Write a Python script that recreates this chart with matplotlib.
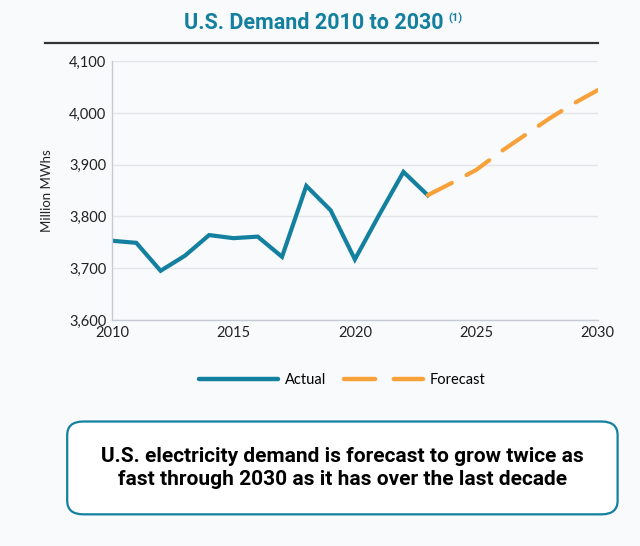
import matplotlib.pyplot as plt
from matplotlib.patches import FancyBboxPatch
from matplotlib.lines import Line2D

years_actual = [2010, 2011, 2012, 2013, 2014, 2015, 2016, 2017, 2018, 2019, 2020, 2021, 2022, 2023]
demand_actual = [3753, 3749, 3695, 3724, 3764, 3758, 3761, 3722, 3859, 3812, 3717, 3803, 3886, 3841]
years_forecast = [2023, 2024, 2025, 2026, 2027, 2028, 2029, 2030]
demand_forecast = [3841, 3865, 3890, 3925, 3957, 3989, 4018, 4044]
yticks = [3600, 3700, 3800, 3900, 4000, 4100]
xticks = [2010, 2015, 2020, 2025, 2030]

teal = "#13809f"
orange = "#f8a13a"
bg = "#f9fafb"

plt.rcParams["font.family"] = ["Lato", "DejaVu Sans"]

fig = plt.figure(figsize=(6.4, 5.46), dpi=100, facecolor=bg)
ax = fig.add_axes([0.175, 0.414, 0.759, 0.474])
ax.set_facecolor(bg)

ax.plot(years_actual, demand_actual, color=teal, lw=3, solid_joinstyle="miter", label="Actual")
ax.plot(years_forecast, demand_forecast, color=orange, lw=3, dashes=(6.5, 4),
        dash_capstyle="round", label="Forecast")

ax.set_xlim(2010, 2030)
ax.set_ylim(3600, 4100)
ax.set_xticks(xticks)
ax.set_yticks(yticks)
ax.set_yticklabels([f"{v:,}" for v in yticks])
ax.tick_params(length=0, labelsize=10.5, colors="#222222", pad=4)
ax.grid(axis="y", color="#e2e5ea", lw=1)
ax.set_axisbelow(True)
for s in ["top", "right"]:
    ax.spines[s].set_visible(False)
for s in ["left", "bottom"]:
    ax.spines[s].set_color("#c5cad3")
    ax.spines[s].set_linewidth(1)
ax.set_ylabel("Million MWhs", fontsize=9.5, color="#222222", labelpad=12)

# title and rule
title = fig.text(0.49, 0.958, "U.S. Demand 2010 to 2030", ha="center", va="center",
                 fontsize=15.5, fontweight="bold", color=teal, family=["Roboto", "DejaVu Sans"])
fig.canvas.draw()
bb = title.get_window_extent().transformed(fig.transFigure.inverted())
fig.text(bb.x1 + 0.008, 0.966, "(1)", ha="left", va="center", fontsize=8,
         fontweight="bold", color=teal, family=["Roboto", "DejaVu Sans"])
fig.add_artist(Line2D([0.071, 0.934], [0.921, 0.921], color="#333333", lw=1.6))

# legend
handles = [Line2D([], [], color=teal, lw=3.2, solid_capstyle="round"),
           Line2D([], [], color=orange, lw=3.2, dashes=(7, 4.2), dash_capstyle="round")]
fig.legend(handles, ["Actual", "Forecast"], loc="center", bbox_to_anchor=(0.535, 0.304),
           ncol=2, frameon=False, fontsize=10.5, handlelength=5.4, columnspacing=1.2,
           handletextpad=0.5)

# callout box
box = FancyBboxPatch((0.105, 0.058), 0.86, 0.17, boxstyle="round,pad=0,rounding_size=0.025",
                     transform=fig.transFigure, facecolor="white", edgecolor=teal, lw=1.6)
fig.add_artist(box)
fig.text(0.535, 0.143, "U.S. electricity demand is forecast to grow twice as\nfast through 2030 as it has over the last decade",
         ha="center", va="center", fontsize=15, fontweight="bold", color="#000000",
         linespacing=1.3, family=["Roboto", "DejaVu Sans"])

fig.savefig("out.png", dpi=100, facecolor=bg)
